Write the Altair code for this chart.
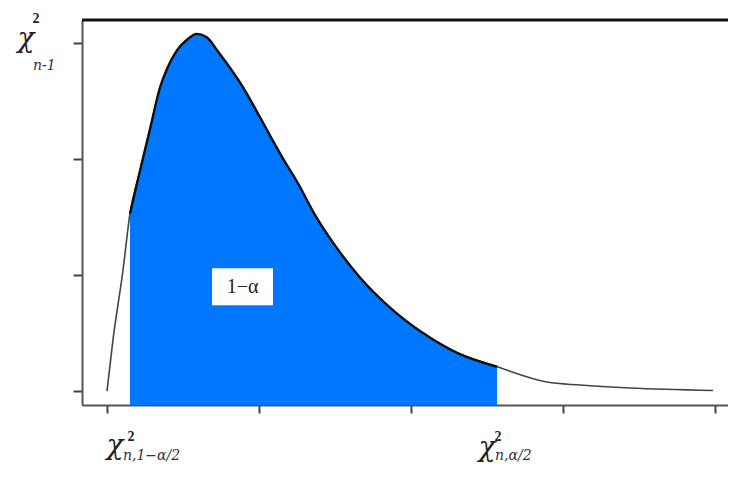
import altair as alt
import pandas as pd

# density curve
curve_x = [0, 0.039, 0.105, 0.151, 0.217, 0.283, 0.349, 0.395, 0.461, 0.526, 0.592,
           0.658, 0.724, 0.895, 1.007, 1.053, 1.151, 1.257, 1.368, 1.487, 1.664,
           1.862, 2.079, 2.303, 2.566, 2.895, 3.112, 3.441, 3.987]
curve_y = [0, 0.44, 1.04, 1.53, 1.90, 2.26, 2.62, 2.78, 2.94, 3.03, 3.08,
           3.05, 2.94, 2.62, 2.36, 2.25, 2.02, 1.79, 1.52, 1.28, 0.98,
           0.72, 0.50, 0.33, 0.21, 0.078, 0.052, 0.026, 0.005]

lower_crit = 0.151
upper_crit = 2.566

x_ticks = [0, 1, 2, 3, 4]
y_ticks = [0, 1, 2, 3]

W, H = 646, 385
x_domain = [-0.1645, -0.1645 + W / 152]
y_domain = [-0.12, 3.2]

# label texts and anchor points (data coordinates)
chi_text = ["χ", "χ", "χ"]
chi_x = [-0.533, 0.053, 2.50]
chi_y = [2.966, -0.543, -0.560]
sup_text = ["2", "2", "2"]
sup_x = [-0.467, 0.158, 2.572]
sup_y = [3.172, -0.431, -0.431]
sub_text = ["n-1", "n,1−α/2", "n,α/2"]
sub_x = [-0.487, 0.105, 2.553]
sub_y = [2.767, -0.595, -0.595]

area_label = "1−α"
area_label_x = 0.892
area_label_y = 0.90
box_x = [0.691, 1.092]
box_y = [0.741, 1.06]

df = pd.DataFrame({"x": curve_x, "y": curve_y})
fill_df = df[(df.x >= lower_crit) & (df.x <= upper_crit)].copy()
fill_df["base"] = y_domain[0]

xs = alt.Scale(domain=x_domain, nice=False, zero=False)
ys = alt.Scale(domain=y_domain, nice=False, zero=False)

xax = alt.Axis(values=x_ticks, labels=False, title=None, grid=False,
               domainColor="#555555", domainWidth=2, tickColor="#444444",
               tickWidth=2, tickSize=8)
yax = alt.Axis(values=y_ticks, labels=False, title=None, grid=False,
               domainColor="#555555", domainWidth=2, tickColor="#444444",
               tickWidth=2, tickSize=9)

fill = alt.Chart(fill_df).mark_area(color="#0077ff", opacity=1,
                                     interpolate="monotone").encode(
    x=alt.X("x:Q", scale=xs, axis=xax),
    y=alt.Y("y:Q", scale=ys, axis=yax),
    y2="base:Q",
)

curve_all = alt.Chart(df).mark_line(color="#444444", strokeWidth=1.6,
                                    interpolate="monotone").encode(
    x=alt.X("x:Q", scale=xs), y=alt.Y("y:Q", scale=ys))

curve_in = alt.Chart(fill_df).mark_line(color="#111111", strokeWidth=2.4,
                                        interpolate="monotone").encode(
    x=alt.X("x:Q", scale=xs), y=alt.Y("y:Q", scale=ys))

top_line = alt.Chart(pd.DataFrame({"y": [y_domain[1]]})).mark_rule(
    color="#111111", strokeWidth=3).encode(
    y=alt.Y("y:Q", scale=ys), x=alt.value(0), x2=alt.value(W))

box = alt.Chart(pd.DataFrame({"x": [box_x[0]], "x2": [box_x[1]],
                              "y": [box_y[0]], "y2": [box_y[1]]})).mark_rect(
    color="white").encode(
    x=alt.X("x:Q", scale=xs), x2="x2:Q", y=alt.Y("y:Q", scale=ys), y2="y2:Q")

box_text = alt.Chart(pd.DataFrame({"x": [area_label_x], "y": [area_label_y],
                                   "t": [area_label]})).mark_text(
    font="Liberation Serif", fontSize=20, color="#222222", align="center",
    baseline="middle").encode(
    x=alt.X("x:Q", scale=xs), y=alt.Y("y:Q", scale=ys), text="t:N")

chi = alt.Chart(pd.DataFrame({"x": chi_x, "y": chi_y, "t": chi_text})).mark_text(
    font="DejaVu Serif", fontSize=28, fontStyle="italic",
    color="#222222", align="center", baseline="alphabetic").encode(
    x=alt.X("x:Q", scale=xs), y=alt.Y("y:Q", scale=ys), text="t:N")

sup = alt.Chart(pd.DataFrame({"x": sup_x, "y": sup_y, "t": sup_text})).mark_text(
    font="Liberation Serif", fontSize=14, fontWeight="bold",
    color="#222222", align="center", baseline="alphabetic").encode(
    x=alt.X("x:Q", scale=xs), y=alt.Y("y:Q", scale=ys), text="t:N")

sub = alt.Chart(pd.DataFrame({"x": sub_x, "y": sub_y, "t": sub_text})).mark_text(
    font="DejaVu Serif", fontSize=14, fontStyle="italic",
    color="#333333", align="left", baseline="alphabetic").encode(
    x=alt.X("x:Q", scale=xs), y=alt.Y("y:Q", scale=ys), text="t:N")

chart = alt.layer(fill, curve_all, curve_in, top_line, box, box_text, chi, sup, sub).properties(
    width=W, height=H,
    autosize=alt.AutoSizeParams(type="none"),
    padding={"left": 74, "top": 12, "right": 0, "bottom": 59},
).configure_view(stroke=None).configure(background="white")

chart.save("out.html", embed_options={"renderer": "svg", "actions": False})
